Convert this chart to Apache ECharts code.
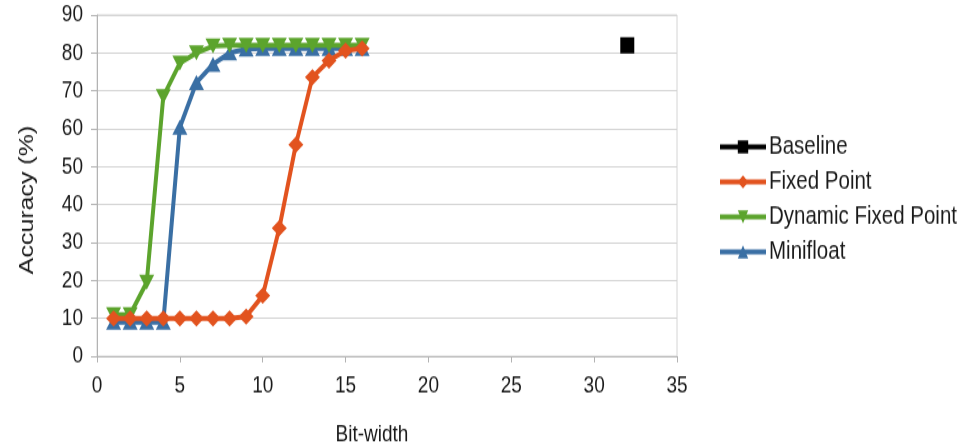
<!DOCTYPE html>
<html>
<head>
<meta charset="utf-8">
<script src="https://cdn.jsdelivr.net/npm/echarts@6/dist/echarts.min.js"></script>
<style>
  html, body { margin: 0; padding: 0; background: #fff; }
  body { width: 972px; height: 445px; overflow: visible; }
  /* the chart is drawn on a shorter canvas and stretched to the full page height */
  #chart { width: 972px; height: 356px; transform: scaleY(1.25); transform-origin: 0 0; }
</style>
</head>
<body>
<div id="chart"></div>
<script>
// Accuracy versus bit-width for several number formats
const bitWidths = [1, 2, 3, 4, 5, 6, 7, 8, 9, 10, 11, 12, 13, 14, 15, 16];
const baselineBits = 32;
const baselineAcc = 82;
const fixedPoint = [10, 10, 10, 10, 10, 10, 10, 10, 10.5, 16, 33.8, 55.8, 73.6, 78, 80.6, 81.2];
const dynamicFixedPoint = [11, 11, 19.5, 68.5, 77.3, 80, 81.8, 82, 82, 82, 82, 82, 82, 82, 82, 82];
const minifloat = [9, 9, 9, 9, 60.4, 72.2, 77, 80, 81, 81.2, 81.2, 81.2, 81.2, 81.2, 81.2, 81.2];
const xTicks = [0, 5, 10, 15, 20, 25, 30, 35];
const yTicks = [0, 10, 20, 30, 40, 50, 60, 70, 80, 90];

const FONT = "'Liberation Sans', Arial, sans-serif";
const pairs = ys => bitWidths.map((x, i) => [x, ys[i]]);

const chart = echarts.init(document.getElementById('chart'), null, { renderer: 'canvas' });
chart.setOption({
  animation: false,
  backgroundColor: '#ffffff',
  textStyle: { fontFamily: FONT },
  grid: {
    left: 97, right: 295, top: 12, bottom: 71,
    outerBoundsMode: 'none',
    show: true, borderColor: '#d4d4d4', borderWidth: 1
  },
  legend: {
    orient: 'vertical',
    left: 713,
    top: 102,
    itemWidth: 46,
    itemHeight: 13,
    itemGap: 7,
    lineStyle: { width: 4 },
    textStyle: { fontFamily: FONT, fontSize: 20.5, lineHeight: 21, color: '#1a1a1a', padding: [0, 0, 0, -2] },
    data: ['Baseline', 'Fixed Point', 'Dynamic Fixed Point', 'Minifloat']
  },
  xAxis: {
    type: 'value',
    min: xTicks[0],
    max: xTicks[xTicks.length - 1],
    interval: 5,
    name: 'Bit-width',
    nameLocation: 'middle',
    nameGap: 53,
    nameTextStyle: { fontFamily: FONT, fontSize: 19, color: '#1a1a1a', padding: [0, 30, 0, 0] },
    axisLine: { show: true, lineStyle: { color: '#b3b3b3', width: 1 } },
    axisTick: { show: true, inside: false, length: 5, lineStyle: { color: '#b3b3b3' } },
    axisLabel: { fontFamily: FONT, fontSize: 19, color: '#1a1a1a', margin: 14.5 },
    splitLine: { show: false }
  },
  yAxis: {
    type: 'value',
    min: yTicks[0],
    max: yTicks[yTicks.length - 1],
    interval: 10,
    name: 'Accuracy (%)',
    nameLocation: 'middle',
    nameRotate: 90,
    nameGap: 60,
    nameTextStyle: { fontFamily: FONT, fontSize: 20, color: '#1a1a1a', padding: [0, 23, 0, 0] },
    axisLine: { show: true, lineStyle: { color: '#b3b3b3', width: 1 } },
    axisTick: { show: true, inside: false, length: 6, lineStyle: { color: '#b3b3b3' } },
    axisLabel: { fontFamily: FONT, fontSize: 19, color: '#1a1a1a', margin: 14 },
    splitLine: { show: true, lineStyle: { color: '#d4d4d4', width: 1 } }
  },
  series: [
    {
      name: 'Baseline',
      type: 'line',
      data: [[baselineBits, baselineAcc]],
      symbol: 'rect',
      symbolSize: [14, 13],
      lineStyle: { width: 4, color: '#000000' },
      itemStyle: { color: '#000000' },
      z: 1
    },
    {
      name: 'Fixed Point',
      type: 'line',
      data: pairs(fixedPoint),
      symbol: 'diamond',
      symbolSize: [15, 13],
      lineStyle: { width: 4, color: '#e2531f' },
      itemStyle: { color: '#e2531f' },
      z: 4
    },
    {
      name: 'Dynamic Fixed Point',
      type: 'line',
      data: pairs(dynamicFixedPoint),
      symbol: 'triangle',
      symbolRotate: 180,
      symbolSize: [15, 12],
      lineStyle: { width: 4, color: '#5ca42d' },
      itemStyle: { color: '#5ca42d' },
      z: 3
    },
    {
      name: 'Minifloat',
      type: 'line',
      data: pairs(minifloat),
      symbol: 'triangle',
      symbolSize: [15, 12],
      lineStyle: { width: 4, color: '#3a6fa4' },
      itemStyle: { color: '#3a6fa4' },
      z: 2
    }
  ]
});
</script>
</body>
</html>
